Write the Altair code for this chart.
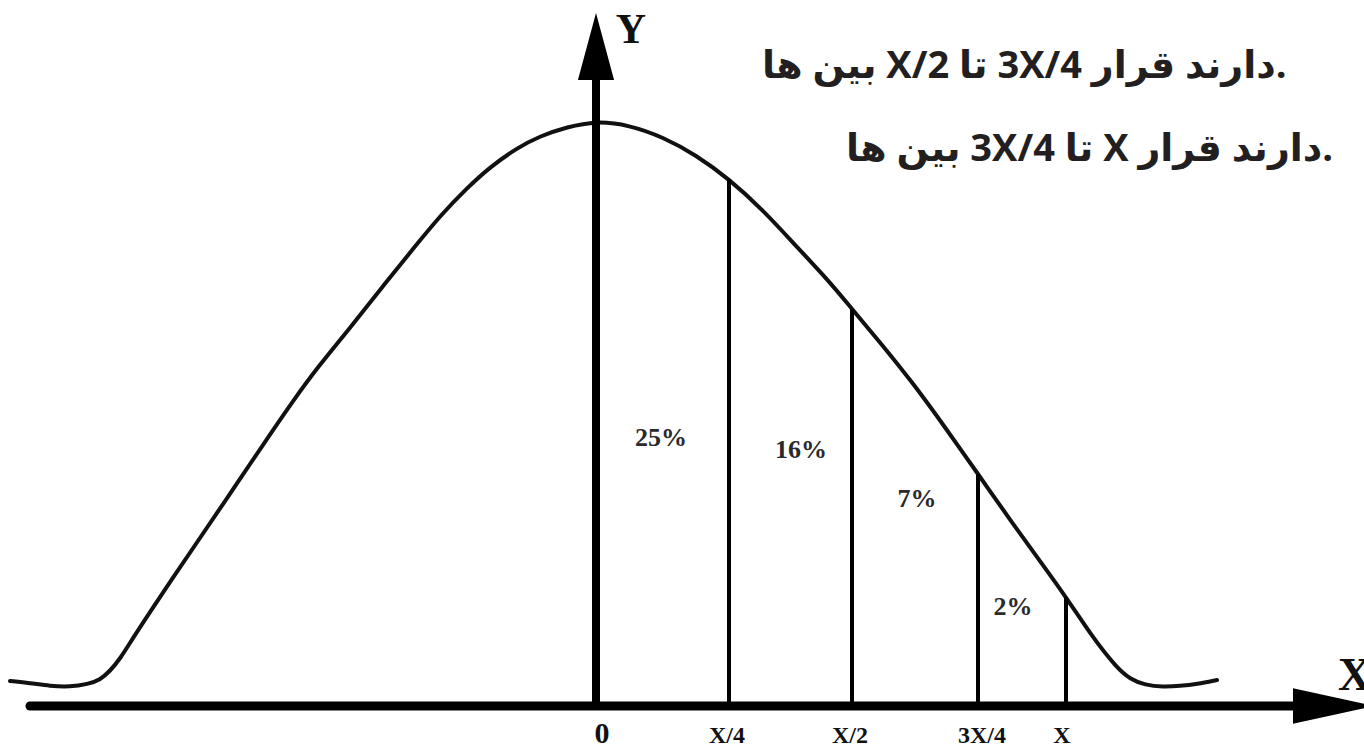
import altair as alt
import pandas as pd

# Bell-shaped curve, in drawing units: x measured right of the Y axis, y above the X axis
curve_x = [-586, -566, -546, -526, -508, -496, -486, -476, -463, -446, -426, -396, -356,
           -323, -303, -279, -246, -213, -179, -156, -129, -106, -79, -56, -29, 0,
           33, 67, 100, 133, 167, 200, 233, 256, 283, 317, 351, 382, 417, 444, 470,
           497, 521, 534, 549, 567, 584, 601, 621]
curve_y = [25, 23, 20, 19, 22, 26, 35, 47, 68, 94, 124, 168, 227,
           276, 305, 338, 378, 420, 462, 490, 518, 539, 558, 570, 579, 585,
           581, 569, 551, 527, 496, 460, 425, 397, 365, 323, 276, 232, 182, 145, 109,
           68, 38, 27, 21, 19, 20, 22, 26]

# Cut points on the X axis and the height of the curve there
cut_names = ["X/4", "X/2", "3X/4", "X"]
cut_x = [133, 256, 382, 470]
cut_top = [527, 397, 232, 109]

# Share of the area in each strip
share_text = ["25%", "16%", "7%", "2%"]
share_x = [65, 205, 321, 417]
share_y = [260, 248, 199, 91]

# Persian notes (LRM marks keep each word in left-to-right sequence on the line)
LRM = "\u200e"
note_lines = [
    f"{LRM}ها{LRM} بین{LRM}  X/2 تا{LRM} 3X/4 قرار{LRM} دارند{LRM}.",
    f"{LRM}ها{LRM} بین{LRM} 3X/4 تا{LRM} X قرار{LRM} دارند{LRM}.",
]
note_x = [166, 250]
note_y = [628, 545]

W, H = 1364, 752
xs = alt.Scale(domain=[-596, 768], nice=False, zero=False)
ys = alt.Scale(domain=[-46, 706], nice=False, zero=False)


def X(field="x"):
    return alt.X(f"{field}:Q", scale=xs, axis=None)


def Y(field="y"):
    return alt.Y(f"{field}:Q", scale=ys, axis=None)


curve_df = pd.DataFrame({"x": curve_x, "y": curve_y, "i": range(len(curve_x))})
curve = alt.Chart(curve_df).mark_line(
    color="#111111", strokeWidth=4, strokeCap="round", strokeJoin="round",
    interpolate="basis"
).encode(x=X(), y=Y(), order="i:Q")

cuts_df = pd.DataFrame({"x": cut_x, "y0": [0] * 4, "y": cut_top, "name": cut_names})
cuts = alt.Chart(cuts_df).mark_rule(color="#000000", strokeWidth=4).encode(
    x=X(), y=Y("y0"), y2="y:Q"
)

# axes drawn as thick rules with arrowheads
x_axis = alt.Chart(pd.DataFrame({"x": [-566], "x2": [700], "y": [0]})).mark_rule(
    color="#000000", strokeWidth=9, strokeCap="round"
).encode(x=X(), x2="x2:Q", y=Y())
y_axis = alt.Chart(pd.DataFrame({"x": [0], "y": [0], "y2": [626]})).mark_rule(
    color="#000000", strokeWidth=8
).encode(x=X(), y=Y(), y2="y2:Q")

y_head = alt.Chart(pd.DataFrame({"x": [0], "y": [659.5]})).mark_point(
    shape="M0,-1L-0.54,1L0.54,1Z", filled=True, size=4489, color="#000000",
    opacity=1, strokeWidth=0
).encode(x=X(), y=Y())
x_head = alt.Chart(pd.DataFrame({"x": [738], "y": [0]})).mark_point(
    shape="M1,0L-1,-0.43L-1,0.43Z", filled=True, size=6724, color="#000000",
    opacity=1, strokeWidth=0
).encode(x=X(), y=Y())

serif = "Liberation Serif"

y_name = alt.Chart(pd.DataFrame({"x": [35], "y": [663], "t": ["Y"]})).mark_text(
    font=serif, fontSize=42, fontWeight="bold", align="center", baseline="alphabetic",
    color="#111111"
).encode(x=X(), y=Y(), text="t:N")
x_name = alt.Chart(pd.DataFrame({"x": [742], "y": [16], "t": ["X"]})).mark_text(
    font=serif, fontSize=46, fontWeight="bold", align="left", baseline="alphabetic",
    color="#111111"
).encode(x=X(), y=Y(), text="t:N")

zero_lbl = alt.Chart(pd.DataFrame({"x": [6], "y": [-37], "t": ["0"]})).mark_text(
    font=serif, fontSize=30, fontWeight="bold", align="center", baseline="alphabetic",
    color="#111111"
).encode(x=X(), y=Y(), text="t:N")

tick_df = pd.DataFrame({"x": [131, 254, 386, 466], "y": [-37] * 4, "t": cut_names})
tick_lbl = alt.Chart(tick_df).mark_text(
    font=serif, fontSize=24, fontWeight="bold", align="center", baseline="alphabetic",
    color="#111111"
).encode(x=X(), y=Y(), text="t:N")

share_df = pd.DataFrame({"x": share_x, "y": share_y, "t": share_text})
share_lbl = alt.Chart(share_df).mark_text(
    font=serif, fontSize=26, fontWeight="bold", align="center", baseline="alphabetic",
    color="#2a2a2a"
).encode(x=X(), y=Y(), text="t:N")

notes_df = pd.DataFrame({"x": note_x, "y": note_y, "t": note_lines})
notes = alt.Chart(notes_df).mark_text(
    font="Open Sans, DejaVu Sans", fontSize=38, fontWeight="bold", align="left",
    baseline="alphabetic", color="#231f20", dir="ltr"
).encode(x=X(), y=Y(), text="t:N")

chart = alt.layer(
    curve, cuts, x_axis, y_axis, y_head, x_head,
    y_name, x_name, zero_lbl, tick_lbl, share_lbl, notes
).properties(
    width=W, height=H, padding=0, autosize=alt.AutoSizeParams(type="none"),
    background="#ffffff"
).configure_view(stroke=None)

chart.save("out.html", embed_options={"renderer": "svg", "actions": False})
